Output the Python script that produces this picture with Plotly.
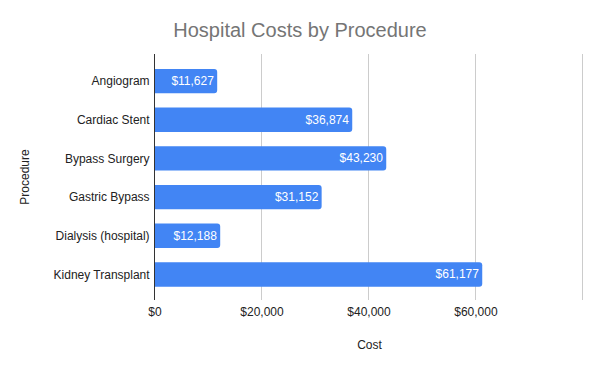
import plotly.graph_objects as go

procedures = ["Angiogram", "Cardiac Stent", "Bypass Surgery", "Gastric Bypass",
              "Dialysis (hospital)", "Kidney Transplant"]
costs = [11627, 36874, 43230, 31152, 12188, 61177]
tick_vals = [0, 20000, 40000, 60000, 80000]
tick_text = ["$0", "$20,000", "$40,000", "$60,000", ""]

labels = ["${:,}".format(v) for v in costs]

FONT = "Arial, Liberation Sans, sans-serif"

fig = go.Figure(go.Bar(
    x=costs, y=procedures, orientation="h",
    marker=dict(color="#4285F4", line=dict(width=0)),
    text=labels, textposition="inside", insidetextanchor="end",
    textfont=dict(color="white", size=12, family=FONT),
    cliponaxis=False,
))

fig.update_layout(
    width=600, height=371,
    margin=dict(l=155, r=16, t=54, b=71, autoexpand=False),
    paper_bgcolor="white", plot_bgcolor="white",
    font=dict(family=FONT, size=12, color="#222222"),
    title=dict(text="Hospital Costs by Procedure", x=0.5, xanchor="center",
               xref="container", yref="container",
               y=1 - 30 / 371, yanchor="middle",
               font=dict(size=20, color="#757575")),
    bargap=0.37,
    barcornerradius=3,
    showlegend=False,
)
fig.update_xaxes(range=[0, 80200], tickvals=tick_vals, ticktext=tick_text,
                 showgrid=True, gridcolor="#cccccc", gridwidth=1, zeroline=False,
                 showline=False, ticks="", ticklen=0, automargin=False,
                 ticklabelstandoff=3,
                 title=dict(text="Cost", standoff=22, font=dict(size=12, color="#222222")),
                 tickfont=dict(size=12, color="#222222"))
fig.update_yaxes(range=[5.66, -0.70], showgrid=False, zeroline=False,
                 showline=True, linecolor="#333333", linewidth=1,
                 ticks="", ticklabelstandoff=2, automargin=False,
                 title=dict(text="Procedure", standoff=21, font=dict(size=12, color="#222222")),
                 tickfont=dict(size=12, color="#222222"))

fig.write_html("out.html", config={"displayModeBar": False},
               post_script="document.body.style.margin='0';")
